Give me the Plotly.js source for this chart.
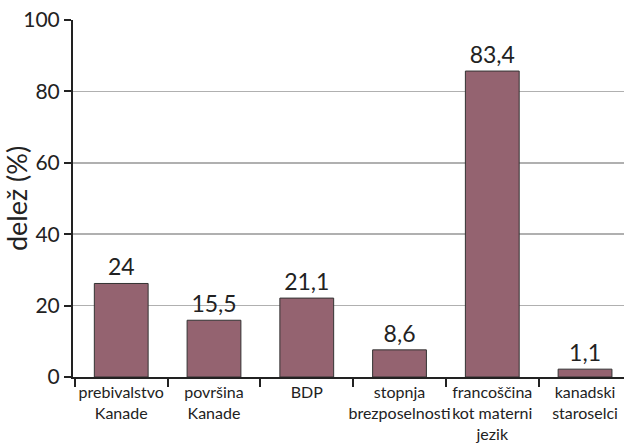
<!DOCTYPE html>
<html>
<head>
<meta charset="utf-8">
<script src="https://cdn.plot.ly/plotly-3.0.1.min.js"></script>
<style>html,body{margin:0;padding:0;background:#fff;}#chart{width:625px;height:445px;}</style>
</head>
<body>
<div id="chart"></div>
<script>
const categories = ["prebivalstvo<br>Kanade", "površina<br>Kanade", "BDP", "stopnja<br>brezposelnosti", "francoščina<br>kot materni<br>jezik", "kanadski<br>staroselci"];
const barHeights = [26.2, 15.9, 22.1, 7.6, 85.7, 2.2];
const barLabels = ["24", "15,5", "21,1", "8,6", "83,4", "1,1"];
const yTicks = [0, 20, 40, 60, 80, 100];

const font = "Lato, 'Open Sans', sans-serif";

Plotly.newPlot("chart", [{
  type: "bar",
  x: categories,
  y: barHeights,
  text: barLabels,
  textposition: "outside",
  texttemplate: "%{text}",
  constraintext: "none",
  cliponaxis: false,
  textfont: {family: font, size: 23, color: "#222"},
  marker: {color: "#946370", line: {color: "#333", width: 1}},
  hoverinfo: "none"
}], {
  width: 625, height: 445,
  margin: {l: 73, r: 1, t: 20, b: 68},
  paper_bgcolor: "#fff", plot_bgcolor: "#fff",
  showlegend: false,
  bargap: 0.42,
  font: {family: font, color: "#222"},
  xaxis: {
    type: "category",
    range: [-0.52, 5.42],
    tickson: "boundaries",
    tickangle: 0,
    ticks: "outside", ticklen: 8, tickwidth: 2, tickcolor: "#222",
    showgrid: false,
    showline: true, linecolor: "#222", linewidth: 2,
    tickfont: {family: font, size: 16, color: "#222"},
    automargin: false
  },
  yaxis: {
    range: [0, 100],
    tickvals: yTicks,
    ticktext: yTicks.map(String),
    ticks: "outside", ticklen: 7, tickwidth: 2, tickcolor: "#222",
    showgrid: true, gridcolor: "#b0b0b0", gridwidth: 1.5,
    zeroline: false,
    showline: true, linecolor: "#222", linewidth: 2,
    tickfont: {family: font, size: 21, color: "#222"},
    title: {text: "delež (%)", font: {family: font, size: 27, color: "#222"}, standoff: 4},
    automargin: false
  }
}, {displayModeBar: false, staticPlot: true});
</script>
</body>
</html>
